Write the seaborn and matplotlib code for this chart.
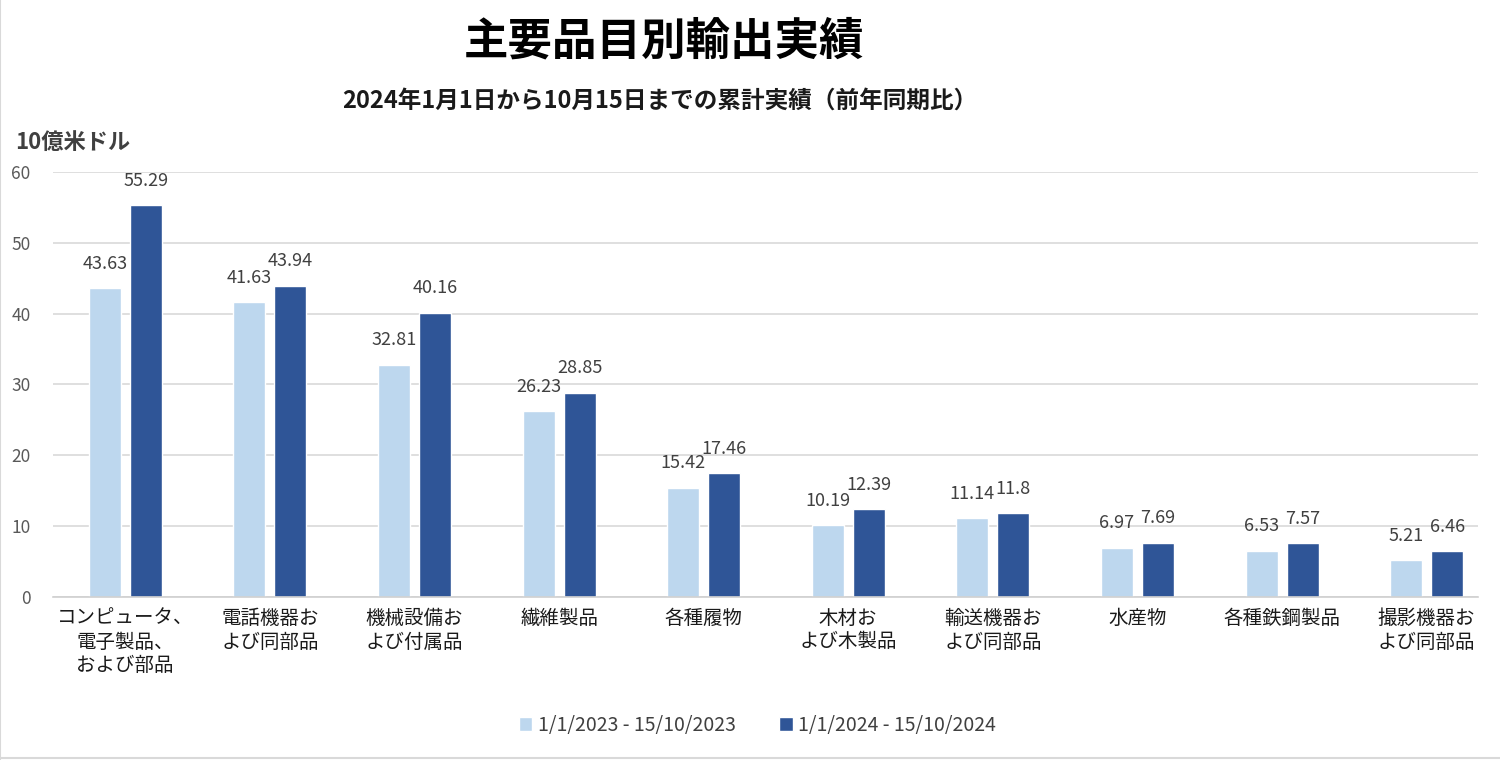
import pandas as pd
import numpy as np
import matplotlib
matplotlib.use("Agg")
import matplotlib.pyplot as plt
import seaborn as sns
from matplotlib.patches import Patch

# データ
categories = ["コンピュータ、\n電子製品、\nおよび部品", "電話機器お\nよび同部品", "機械設備お\nよび付属品",
              "繊維製品", "各種履物", "木材お\nよび木製品", "輸送機器お\nよび同部品", "水産物",
              "各種鉄鋼製品", "撮影機器お\nよび同部品"]
v2023 = [43.63, 41.63, 32.81, 26.23, 15.42, 10.19, 11.14, 6.97, 6.53, 5.21]
v2024 = [55.29, 43.94, 40.16, 28.85, 17.46, 12.39, 11.8, 7.69, 7.57, 6.46]
periods = ["1/1/2023 - 15/10/2023", "1/1/2024 - 15/10/2024"]
colors = ["#BDD7EE", "#2F5597"]

df = pd.DataFrame({
    "品目": categories * 2,
    "期間": [periods[0]] * len(categories) + [periods[1]] * len(categories),
    "値": v2023 + v2024,
})

sns.set_theme(style="white")
plt.rcParams["font.family"] = ["Noto Sans CJK JP", "DejaVu Sans"]

fig = plt.figure(figsize=(15, 7.6), dpi=100)
ax = fig.add_axes([0.0353, 0.2145, 0.95, 0.5592])

sns.barplot(data=df, x="品目", y="値", hue="期間", palette=colors, width=0.567, gap=0.22,
            ax=ax, legend=False, saturation=1, zorder=2)

# 数値ラベル
for cont in ax.containers:
    ax.bar_label(cont, labels=[f"{v:g}" for v in cont.datavalues], padding=11,
                 fontsize=13, color="#404040")

ax.set_ylim(0, 60)
ax.set_xlim(-0.5, 9.355)
ax.set_yticks(range(0, 61, 10))
ax.yaxis.grid(True, color="#d9d9d9", linewidth=1.2, zorder=0.5)
ax.set_axisbelow(True)
for s in ["top", "right", "left"]:
    ax.spines[s].set_visible(False)
ax.spines["bottom"].set_color("#d0d0d0")
ax.spines["bottom"].set_linewidth(1.2)
ax.tick_params(axis="y", labelsize=12.5, labelcolor="#595959", length=0, pad=16)
ax.tick_params(axis="x", labelsize=14, labelcolor="#1a1a1a", length=0, pad=8)
for t in ax.get_xticklabels():
    t.set_linespacing(1.15)
ax.set_xlabel("")
ax.set_ylabel("")

# タイトル
fig.text(0.443, 0.945, "主要品目別輸出実績", fontsize=32, fontweight="bold", color="black",
         ha="center", va="center")
fig.text(0.44, 0.868, "2024年1月1日から10月15日までの累計実績（前年同期比）", fontsize=17,
         fontweight="bold", color="#1a1a1a", ha="center", va="center")
fig.text(0.01, 0.812, "10億米ドル", fontsize=16, fontweight="bold", color="#404040",
         ha="left", va="center")

# 凡例
handles = [Patch(facecolor=c, label=p) for c, p in zip(colors, periods)]
fig.legend(handles=handles, loc="center", bbox_to_anchor=(0.505, 0.046), ncol=2, frameon=False,
           fontsize=14, labelcolor="#404040", handlelength=0.7, handleheight=0.7,
           handletextpad=0.3, columnspacing=2.2)

# 枠線
fig.add_artist(plt.Line2D([0, 0], [0, 1], transform=fig.transFigure, color="#d9d9d9", lw=1.5))
fig.add_artist(plt.Line2D([0, 1], [0.002, 0.002], transform=fig.transFigure, color="#d9d9d9", lw=1.5))

fig.savefig("out.png", dpi=100, facecolor="white")
